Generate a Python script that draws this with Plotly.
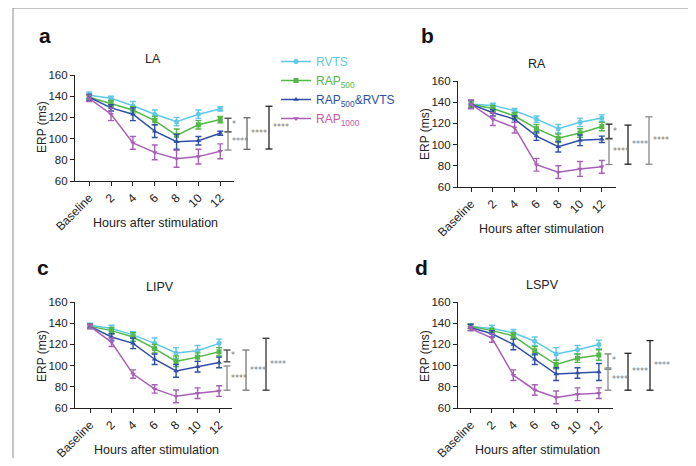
import plotly.graph_objects as go

# page body has an 8px margin; the figure fills the rest of the 696x466 window
OFF = 8
W, H = 696 - 2 * OFF, 466 - 2 * OFF

hours = ["Baseline", "2", "4", "6", "8", "10", "12"]
series_names = ["RVTS", "RAP<sub>500</sub>", "RAP<sub>500</sub>&RVTS", "RAP<sub>1000</sub>"]
panel_titles = ["LA", "RA", "LIPV", "LSPV"]
panel_letters = ["a", "b", "c", "d"]

# ---- LA ----
la_rvts = [141, 138, 131, 123, 116, 123, 128]
la_rvts_err = [3, 2, 4, 4, 4, 4, 2]
la_rap500 = [139, 133, 127, 117, 103, 113, 118]
la_rap500_err = [2, 3, 3, 4, 6, 4, 3]
la_combo = [139, 129, 123, 107, 97, 98, 105]
la_combo_err = [3, 3, 6, 6, 7, 4, 2]
la_rap1000 = [138, 123, 96, 87, 81, 83, 88]
la_rap1000_err = [3, 6, 6, 7, 8, 7, 7]

# ---- RA ----
ra_rvts = [138, 137, 132, 124, 115, 121, 125]
ra_rvts_err = [3, 2, 2, 3, 4, 4, 3]
ra_rap500 = [138, 134, 127, 115, 106, 111, 117]
ra_rap500_err = [3, 3, 3, 4, 4, 4, 4]
ra_combo = [138, 130, 124, 108, 98, 104, 105]
ra_combo_err = [4, 3, 3, 4, 5, 5, 3]
ra_rap1000 = [138, 124, 116, 81, 74, 77, 79]
ra_rap1000_err = [4, 6, 5, 6, 6, 7, 6]

# ---- LIPV ----
lipv_rvts = [138, 135, 129, 121, 112, 114, 121]
lipv_rvts_err = [2, 3, 3, 5, 5, 5, 4]
lipv_rap500 = [137, 133, 127, 116, 104, 108, 113]
lipv_rap500_err = [2, 3, 4, 4, 5, 4, 4]
lipv_combo = [137, 127, 121, 106, 95, 99, 103]
lipv_combo_err = [2, 3, 5, 5, 6, 5, 5]
lipv_rap1000 = [137, 122, 92, 78, 71, 74, 76]
lipv_rap1000_err = [2, 4, 4, 4, 6, 5, 5]

# ---- LSPV ----
lspv_rvts = [137, 135, 131, 123, 111, 115, 120]
lspv_rvts_err = [2, 3, 3, 4, 6, 4, 4]
lspv_rap500 = [137, 133, 128, 114, 101, 107, 110]
lspv_rap500_err = [2, 2, 3, 4, 4, 4, 5]
lspv_combo = [136, 130, 120, 106, 92, 93, 94]
lspv_combo_err = [3, 3, 5, 5, 6, 5, 8]
lspv_rap1000 = [135, 126, 91, 77, 70, 73, 74]
lspv_rap1000_err = [2, 4, 5, 5, 6, 6, 5]

# significance brackets (top value, bottom value, label) per panel
la_brackets = [(119.2, 106.5, "*"), (106.0, 89.2, "****"), (119.7, 89.9, "****"), (130.5, 90.2, "****")]
ra_brackets = [(119.3, 105.8, "*"), (105.1, 81.2, "****"), (118.4, 81.5, "****"), (126.2, 81.5, "****")]
lipv_brackets = [(114.7, 103.6, "*"), (99.6, 76.8, "****"), (114.7, 76.8, "****"), (125.8, 76.8, "****")]
lspv_brackets = [(111.0, 97.7, "*"), (96.4, 76.8, "****"), (111.6, 76.8, "****"), (123.6, 76.8, "****")]

panels = [
    ([la_rvts, la_rap500, la_combo, la_rap1000],
     [la_rvts_err, la_rap500_err, la_combo_err, la_rap1000_err], la_brackets),
    ([ra_rvts, ra_rap500, ra_combo, ra_rap1000],
     [ra_rvts_err, ra_rap500_err, ra_combo_err, ra_rap1000_err], ra_brackets),
    ([lipv_rvts, lipv_rap500, lipv_combo, lipv_rap1000],
     [lipv_rvts_err, lipv_rap500_err, lipv_combo_err, lipv_rap1000_err], lipv_brackets),
    ([lspv_rvts, lspv_rap500, lspv_combo, lspv_rap1000],
     [lspv_rvts_err, lspv_rap500_err, lspv_combo_err, lspv_rap1000_err], lspv_brackets),
]

# ---- styling ----
FONT = "Liberation Sans, Arial, sans-serif"
line_colors = ["#5ec8e6", "#52b848", "#2f4fa6", "#a860b6"]
text_colors = ["#5ec8e6", "#52b848", "#2f4fa6", "#d055a8"]
symbols = ["circle", "square", "triangle-up", "triangle-down"]

# panel geometry in window pixels: x axis start/end, y pixel for 160 and 60, x range
geom = [
    dict(x0=75, x1=234, ytop=75, ybot=181, xr=[-0.65, 6.63]),
    dict(x0=458, x1=616, ytop=81, ybot=187, xr=[-0.6, 6.65]),
    dict(x0=75, x1=232, ytop=302, ybot=408, xr=[-0.7, 6.6]),
    dict(x0=458, x1=613, ytop=302, ybot=408, xr=[-0.59, 6.66]),
]
bracket_x = [[228, 228, 247, 269], [609, 609, 628, 649], [227, 227, 246, 266], [608, 608, 628, 650]]
bracket_colors = [["#444", "#888", "#666", "#222"], ["#222", "#888", "#222", "#888"],
                  ["#444", "#888", "#777", "#333"], ["#777", "#888", "#222", "#222"]]
title_pos = [(153, 59), (537, 64), (160, 287), (542, 285)]
letter_pos = [(45, 35), (427, 35), (43, 267), (422, 267)]
ylab_pos = [(42, 127), (425, 134), (42, 356), (425, 356)]
xlab_pos = [(155, 223), (541, 229), (156, 450), (537, 450)]

fig = go.Figure()
layout = dict(width=W, height=H, autosize=False, margin=dict(l=0, r=0, t=0, b=0, pad=0, autoexpand=False),
              paper_bgcolor="white", plot_bgcolor="white",
              font=dict(family=FONT, color="#222", size=11), showlegend=True)

shapes = []
annotations = []

def px(x):
    return (x - OFF) / W

def py(y):
    return 1 - (y - OFF) / H

def label(text, x, y, size, color="#222", angle=0, family=FONT, xanchor="center", yref="paper", yval=None):
    return dict(text=text, xref="paper", yref=yref, x=px(x), y=(py(y) if yval is None else yval),
                xanchor=xanchor, yanchor="middle", textangle=angle, showarrow=False,
                font=dict(size=size, color=color, family=family))

for p, (vals, errs, brackets) in enumerate(panels):
    g = geom[p]
    sfx = "" if p == 0 else str(p + 1)
    for s in range(4):
        fig.add_trace(go.Scatter(
            x=hours, y=vals[s], name="<span style='color:%s'>%s</span>" % (text_colors[s], series_names[s]),
            mode="lines+markers",
            line=dict(color=line_colors[s], width=1.5),
            marker=dict(symbol=symbols[s], size=5, color=line_colors[s]),
            error_y=dict(type="data", array=errs[s], color=line_colors[s], thickness=1.4, width=3),
            xaxis="x" + sfx, yaxis="y" + sfx, showlegend=(p == 0), legendgroup=str(s)))
    layout["xaxis" + sfx] = dict(
        domain=[px(g["x0"]), px(g["x1"])], range=g["xr"], anchor="y" + sfx, automargin=False,
        showline=True, linecolor="#222", linewidth=1.2, ticks="outside", ticklen=4,
        tickcolor="#222", tickwidth=1.2, tickangle=-45, showgrid=False, zeroline=False,
        tickfont=dict(size=12, family=FONT, color="#222"), fixedrange=True)
    layout["yaxis" + sfx] = dict(
        domain=[py(g["ybot"]), py(g["ytop"])], range=[60, 160], anchor="x" + sfx, automargin=False,
        tickvals=[60, 80, 100, 120, 140, 160], showline=True, linecolor="#222", linewidth=1.2,
        ticks="outside", ticklen=4, tickcolor="#222", tickwidth=1.2, showgrid=False,
        zeroline=False, tickfont=dict(size=11.5, family=FONT, color="#222"), fixedrange=True)
    yref = "y" + sfx
    for b, (top, bot, lab) in enumerate(brackets):
        bx = bracket_x[p][b]
        col = bracket_colors[p][b]
        shapes.append(dict(type="line", xref="paper", yref=yref, x0=px(bx), x1=px(bx), y0=bot, y1=top,
                           line=dict(color=col, width=1.3)))
        for yy in (top, bot):
            shapes.append(dict(type="line", xref="paper", yref=yref, x0=px(bx - 3.5), x1=px(bx + 3.5),
                               y0=yy, y1=yy, line=dict(color=col, width=1.3)))
        annotations.append(label(lab, bx + 1.5, 0, 8, color="#777", family="DejaVu Sans",
                                 xanchor="left", yref=yref, yval=(top + bot) / 2))
    tx, ty = title_pos[p]
    annotations.append(label(panel_titles[p], tx, ty, 12.5))
    lx, ly = letter_pos[p]
    annotations.append(label("<b>%s</b>" % panel_letters[p], lx, ly, 21, color="#111"))
    yx, yy = ylab_pos[p]
    annotations.append(label("ERP (ms)", yx, yy, 12, angle=-90))
    xx, xy = xlab_pos[p]
    annotations.append(label("Hours after stimulation", xx, xy, 12.5))

# outer frame (open at bottom)
frame_col = "#8a8a8a"
shapes.append(dict(type="line", xref="paper", yref="paper", x0=px(13), x1=px(13), y0=0, y1=py(8),
                   line=dict(color=frame_col, width=1)))
shapes.append(dict(type="line", xref="paper", yref="paper", x0=px(13), x1=px(690), y0=py(8), y1=py(8),
                   line=dict(color=frame_col, width=1)))
shapes.append(dict(type="line", xref="paper", yref="paper", x0=px(690), x1=px(690), y0=0, y1=py(8),
                   line=dict(color=frame_col, width=1)))

layout["shapes"] = shapes
layout["annotations"] = annotations
layout["legend"] = dict(x=px(276), y=py(47), xanchor="left", yanchor="top", itemwidth=30,
                        bgcolor="rgba(0,0,0,0)", font=dict(size=12, family=FONT), tracegroupgap=0)
fig.update_layout(**layout)
fig.write_html("out.html")
